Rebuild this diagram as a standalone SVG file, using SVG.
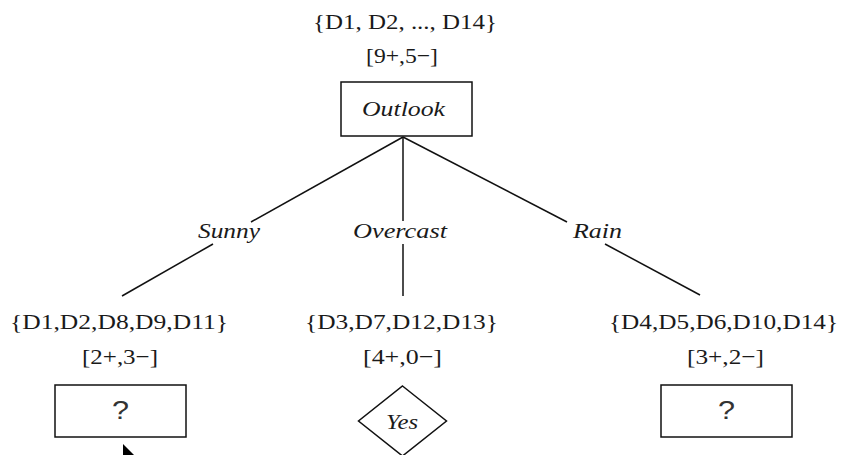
<svg xmlns="http://www.w3.org/2000/svg" width="842" height="455" viewBox="0 0 842 455">
  <style>
    .lbl { font-family: "Liberation Serif", "Times New Roman", serif; font-size: 22px; fill: #1a1a1a; }
    .it { font-style: italic; }
    .q { font-family: "Liberation Sans", Arial, sans-serif; font-size: 25px; fill: #333; }
    .box { fill: #fff; stroke: #111; stroke-width: 1.5; }
    .edge { stroke: #111; stroke-width: 1.5; fill: none; }
  </style>
  <rect width="842" height="455" fill="#fff"/>

  <!-- branches from the Outlook test -->
  <g id="connectors">
    <line class="edge" x1="403" y1="137" x2="251" y2="222"/>
    <line class="edge" x1="213" y1="244" x2="122" y2="296"/>
    <line class="edge" x1="403" y1="137" x2="403" y2="221"/>
    <line class="edge" x1="403" y1="244" x2="403" y2="296"/>
    <line class="edge" x1="403" y1="137" x2="567" y2="222"/>
    <line class="edge" x1="605" y1="244" x2="700" y2="295"/>
    <text class="lbl it" x="198" y="238" textLength="62" lengthAdjust="spacingAndGlyphs">Sunny</text>
    <text class="lbl it" x="353" y="238" textLength="94" lengthAdjust="spacingAndGlyphs">Overcast</text>
    <text class="lbl it" x="573" y="238" textLength="49" lengthAdjust="spacingAndGlyphs">Rain</text>
  </g>

  <!-- root: all fourteen days -->
  <g id="root">
    <text class="lbl" x="313" y="29" textLength="184" lengthAdjust="spacingAndGlyphs">{D1, D2, ..., D14}</text>
    <text class="lbl" x="366" y="63" textLength="72" lengthAdjust="spacingAndGlyphs">[9+,5−]</text>
    <rect class="box" x="341" y="82" width="131" height="54"/>
    <text class="lbl it" x="362" y="116" textLength="83" lengthAdjust="spacingAndGlyphs">Outlook</text>
  </g>

  <!-- Sunny subset -->
  <g id="sunny">
    <text class="lbl" x="10" y="329" textLength="218" lengthAdjust="spacingAndGlyphs">{D1,D2,D8,D9,D11}</text>
    <text class="lbl" x="82" y="364" textLength="76" lengthAdjust="spacingAndGlyphs">[2+,3−]</text>
    <rect class="box" x="55" y="385" width="131" height="52"/>
    <text class="q" x="112" y="419" textLength="17" lengthAdjust="spacingAndGlyphs">?</text>
  </g>

  <!-- Overcast subset: pure leaf -->
  <g id="overcast">
    <text class="lbl" x="305" y="329" textLength="193" lengthAdjust="spacingAndGlyphs">{D3,D7,D12,D13}</text>
    <text class="lbl" x="363" y="364" textLength="79" lengthAdjust="spacingAndGlyphs">[4+,0−]</text>
    <polygon class="box" points="402.5,386 446.5,421 402.5,456 358.5,421"/>
    <text class="lbl it" x="386" y="429" textLength="32" lengthAdjust="spacingAndGlyphs">Yes</text>
  </g>

  <!-- Rain subset -->
  <g id="rain">
    <text class="lbl" x="609" y="329" textLength="229" lengthAdjust="spacingAndGlyphs">{D4,D5,D6,D10,D14}</text>
    <text class="lbl" x="687" y="364" textLength="77" lengthAdjust="spacingAndGlyphs">[3+,2−]</text>
    <rect class="box" x="661" y="385" width="131" height="52"/>
    <text class="q" x="718" y="419" textLength="17" lengthAdjust="spacingAndGlyphs">?</text>
  </g>

  <!-- pointer -->
  <polygon points="123,444 123,456 135,456" fill="#000"/>
</svg>
